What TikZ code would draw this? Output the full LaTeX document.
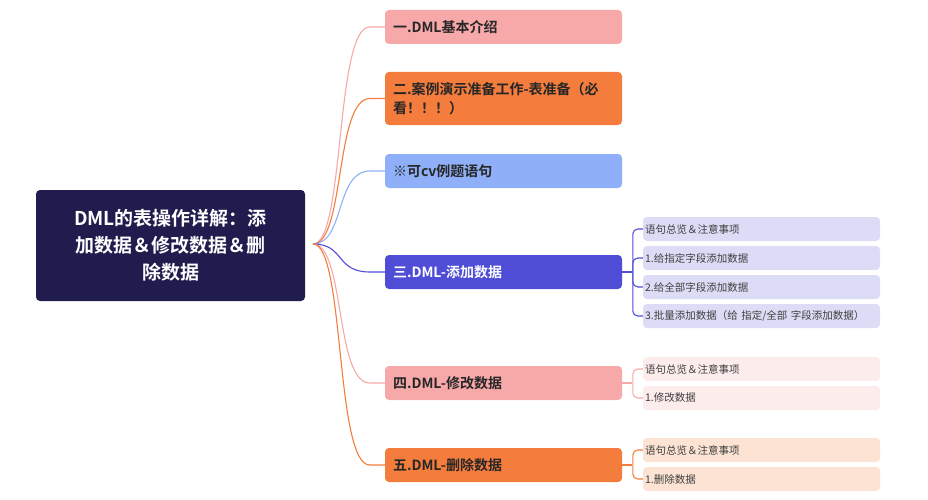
\documentclass[tikz,border=0pt]{standalone}
\usepackage{fontspec}
\setmainfont{Noto Sans CJK SC}
\newfontfamily\cjkb{Noto Sans CJK SC Bold}
\begin{document}
\begin{tikzpicture}[x=1pt,y=-1pt,
 root/.style={fill=rootc,rounded corners=4pt,text=white,font=\cjkb\fontsize{19}{27}\selectfont,align=center,inner sep=0},
 br/.style={rounded corners=4pt,minimum width=237pt,align=left,text width=221pt,font=\cjkb\fontsize{14}{19}\selectfont,inner sep=0},
 ch/.style={rounded corners=4pt,minimum width=237pt,minimum height=24pt,text width=233pt,align=left,font=\fontsize{10.5}{12}\selectfont,inner sep=0,text=black!75},
 conn/.style={line width=1.1pt},
 brk/.style={line width=1.1pt,rounded corners=5pt}]
\definecolor{rootc}{HTML}{211C4E}
\definecolor{pink}{HTML}{F7A8A8}
\definecolor{orng}{HTML}{F47C3C}
\definecolor{blu}{HTML}{8FB0F8}
\definecolor{purp}{HTML}{4F4CD6}
\definecolor{lpurp}{HTML}{DCDCF6}
\definecolor{lpink}{HTML}{FDECEC}
\definecolor{lorng}{HTML}{FCE3D3}
\useasboundingbox (0,0) rectangle (928,500);
\path[fill=rootc,rounded corners=4pt] (36,190) rectangle (305,301);
\node[root] (root) at (170.5,245.5) {DML的表操作详解：添\\加数据＆修改数据＆删\\除数据};
\coordinate (o) at (313,244);
\node[br,fill=pink,minimum height=34pt,text=black!85] (b1) at (503.5,27) {一.DML基本介绍};
\node[br,fill=orng,minimum height=53pt,text=black!85] (b2) at (503.5,98.5) {二.案例演示准备工作-表准备（必\\看！！！）};
\node[br,fill=blu,minimum height=34pt,text=black!85] (b3) at (503.5,171) {※可cv例题语句};
\node[br,fill=purp,minimum height=34pt,text=white] (b4) at (503.5,272) {三.DML-添加数据};
\node[br,fill=pink,minimum height=34pt,text=black!85] (b5) at (503.5,383) {四.DML-修改数据};
\node[br,fill=orng,minimum height=34pt,text=black!85] (b6) at (503.5,465) {五.DML-删除数据};
\foreach \b/\c in {b1/pink,b2/orng,b3/blu,b4/purp,b5/pink,b6/orng}
  \draw[conn,\c] (o) .. controls (345,244) and (335,0|-\b.west) .. ([xshift=-15pt]\b.west) -- (\b.west);
\node[ch,fill=lpurp] (c41) at (761.5,229) {语句总览＆注意事项};
\node[ch,fill=lpurp] (c42) at (761.5,258) {1.给指定字段添加数据};
\node[ch,fill=lpurp] (c43) at (761.5,287) {2.给全部字段添加数据};
\node[ch,fill=lpurp] (c44) at (761.5,316) {3.批量添加数据（给 指定/全部 字段添加数据）};
\node[ch,fill=lpink] (c51) at (761.5,369) {语句总览＆注意事项};
\node[ch,fill=lpink] (c52) at (761.5,398) {1.修改数据};
\node[ch,fill=lorng] (c61) at (761.5,450) {语句总览＆注意事项};
\node[ch,fill=lorng] (c62) at (761.5,479) {1.删除数据};
\draw[conn,purp] (b4.east) -- ++(10,0);
\draw[brk,purp] (c41.west) -- ++(-10,0) |- (c44.west);
\draw[brk,purp] (c42.west) -- ++(-10,0) |- (c43.west);
\draw[conn,pink] (b5.east) -- ++(10,0);
\draw[brk,pink] (c51.west) -- ++(-10,0) |- (c52.west);
\draw[conn,orng] (b6.east) -- ++(10,0);
\draw[brk,orng] (c61.west) -- ++(-10,0) |- (c62.west);
\end{tikzpicture}
\end{document}
